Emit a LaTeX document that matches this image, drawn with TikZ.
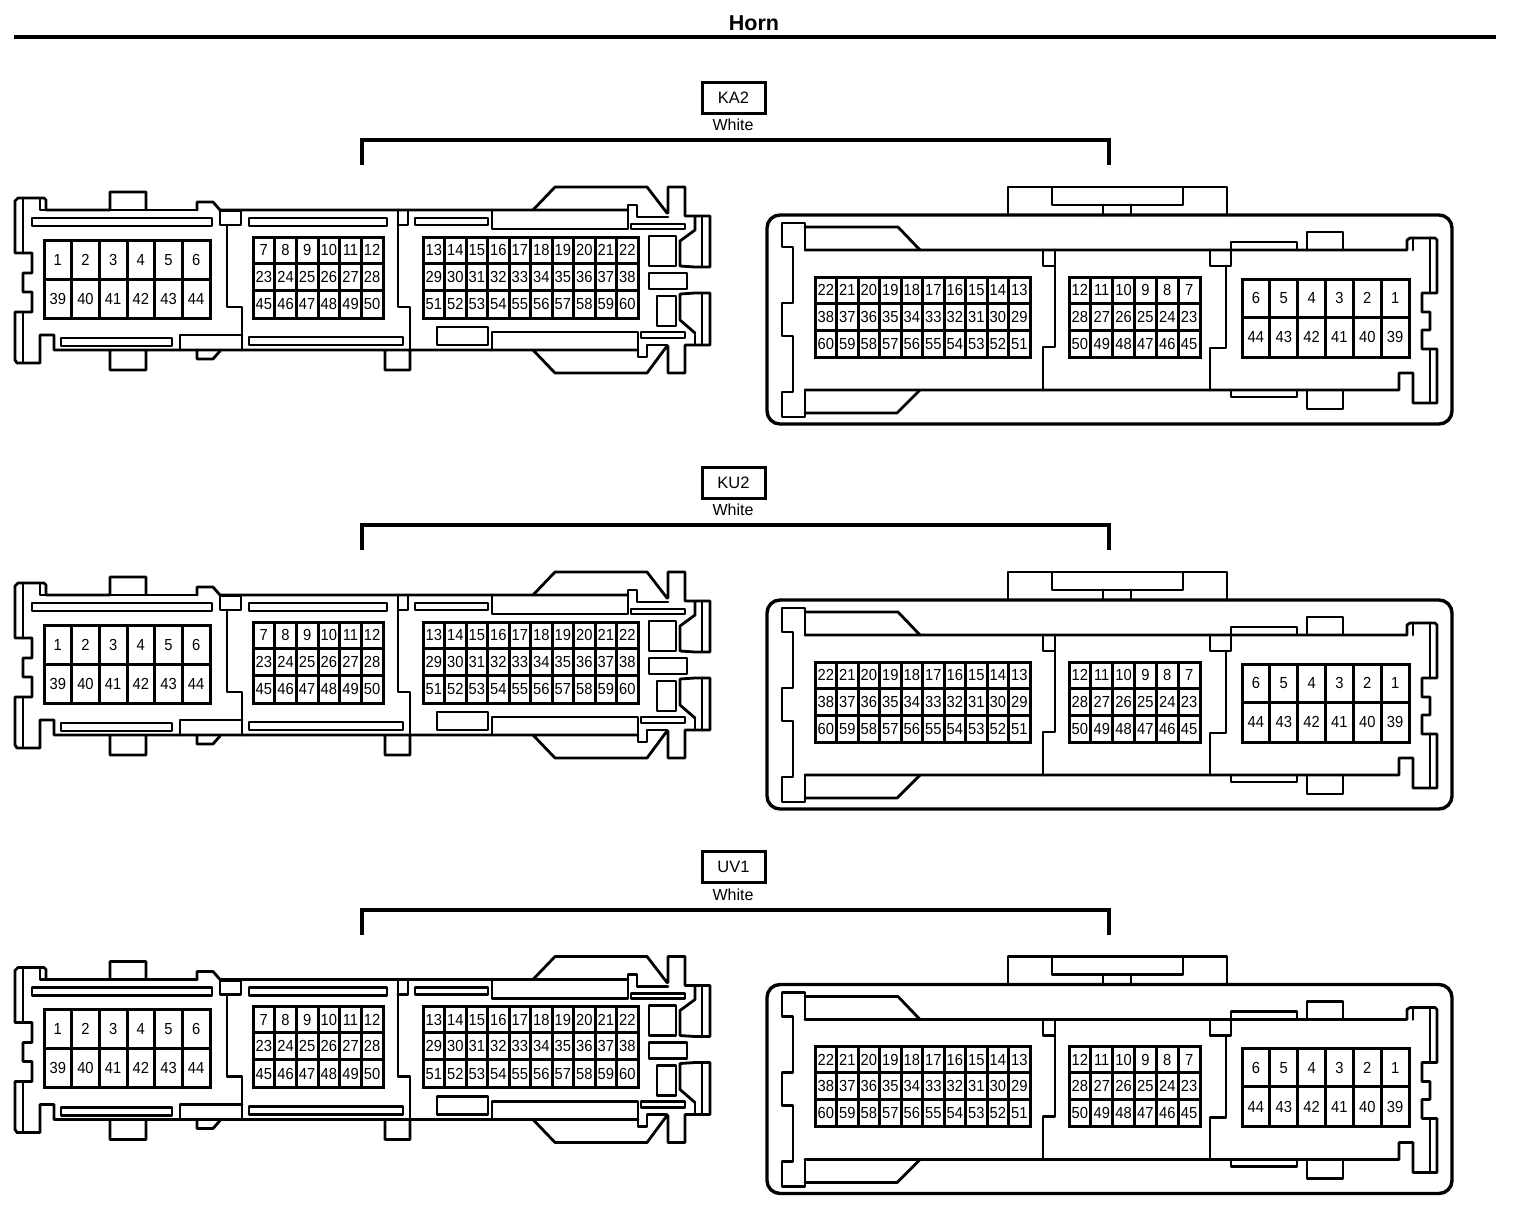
\documentclass[tikz,border=0pt]{standalone}
\usepackage{fontspec}
\setmainfont{Liberation Sans}
\newfontfamily\pinfont[FakeStretch=0.92]{Liberation Sans}
\tikzset{
  ln/.style={line width=2.8pt,line join=round,line cap=round,black},
  hv/.style={line width=3.4pt,line join=miter,line cap=round,black},
  pincell/.style={draw=black,line width=3pt,fill=white,inner sep=0pt,outer sep=0pt,text height=11.4pt,text depth=0pt,font=\pinfont\fontsize{16pt}{17pt}\selectfont,text=black},
  tagbox/.style={draw=black,line width=3pt,fill=white,inner sep=0pt,minimum width=63pt,minimum height=31pt,font=\fontsize{16.5pt}{17pt}\selectfont},
  caption/.style={inner sep=0pt,font=\fontsize{16pt}{17pt}\selectfont},
  title/.style={inner sep=0pt,font=\bfseries\fontsize{21.5pt}{22pt}\selectfont}
}
% name prefix, x left, x right, cell count, y top, y bottom, labels
\newcommand\cellrow[7]{%
  \pgfmathsetmacro\cw{(#3-#2)/#4}%
  \pgfmathsetmacro\ch{#6-#5}%
  \pgfmathsetmacro\cy{(#6+#5)/2}%
  \foreach \lab [count=\i from 0] in {#7}{%
    \pgfmathsetmacro\cx{#2+(\i+.5)*\cw}%
    \node[pincell,minimum width=\cw pt,minimum height=\ch pt] (#1-\lab) at (\cx,\cy) {\lab};
  }%
}
\newcommand\connunit[3]{%
\begin{scope}[shift={(0,#1)}]
  \node[tagbox] (#2tag) at (733.5,97.5) {#3};
  \node[caption] (#2col) at (733,125) {White};
  \coordinate (#2bl) at (362,165);
  \coordinate (#2br) at (1109,165);
  \draw[line width=4pt,line join=miter] (#2bl) -- (362,140) -- (1109,140) -- (#2br);
  % ---------- left connector ----------
  \draw[ln] (628,210) -- (220,210) -- (213,202) -- (197,202) -- (197,210) (146,210) -- (146,192) -- (110,192) -- (110,210) -- (46,210) -- (46,200) -- (44,198) -- (18,198) -- (15,201) -- (15,253) -- (32,253) -- (32,273) -- (23,273) -- (23,292) -- (32,292) -- (32,312) -- (15,312) -- (15,360) -- (17,363) -- (40,363) -- (40,335) -- (54,335) -- (54,350) -- (638,350) (110,350) -- (110,370) -- (146,370) -- (146,350) (385,350) -- (385,370) -- (410,370) -- (410,350) (533,350) -- (555,373) -- (647,373) -- (667,346) -- (668,346) -- (668,373) -- (685,373) -- (685,345) -- (710,345) -- (710,293) -- (695,293) -- (680,294) -- (680,320) -- (695,333);
  \draw[ln] (197,210) -- (110,210);
  \draw[ln] (533,210) -- (555,187) -- (647,187) -- (667,213) -- (668,213) -- (668,187) -- (685,187) -- (685,216) -- (710,216) -- (710,267) -- (695,267) -- (680,266) -- (680,241) -- (695,230) -- (695,216);
  \draw[ln] (702,216) -- (702,267) (702,293) -- (702,345) (695,333) -- (695,345);
  \draw[ln] (23,199) -- (23,253) (23,312) -- (23,362) (40,199) -- (40,210) -- (46,210);
  \draw[ln] (32,218) rectangle (212,226) (61,338) rectangle (172,346);
  \draw[ln] (220,211) rectangle (241,225);
  \draw[ln] (227,225) -- (227,307) -- (242,307) -- (242,350);
  \draw[ln] (242,335) -- (180,335) -- (180,350);
  \draw[ln] (197,350) -- (197,359) -- (213,359) -- (220,351);
  \draw[ln] (249,218) rectangle (387,226) (249,337) rectangle (403,345);
  \draw[ln] (398,210) -- (398,307) -- (410,307) -- (410,350) (398,225) -- (408,225) -- (408,210);
  \draw[ln] (415,218) rectangle (488,225);
  \draw[ln] (492,210) -- (492,229) -- (628,229) -- (628,205) -- (637,205) -- (637,217) -- (668,217);
  \draw[ln] (631,224) rectangle (685,229);
  \draw[ln] (649,236) rectangle (676,266) (649,273) rectangle (687,289) (657,296) rectangle (676,326);
  \draw[ln] (437,327) rectangle (488,345);
  \draw[ln] (492,350) -- (492,332) -- (638,332) -- (638,357) -- (647,357) -- (647,345) -- (667,345);
  \draw[ln] (641,332) rectangle (685,338);
  \cellrow{#2a}{44}{210}{6}{240}{279}{1,2,3,4,5,6}
  \cellrow{#2a}{44}{210}{6}{279}{318}{39,40,41,42,43,44}
  \cellrow{#2a}{253}{383}{6}{237}{263}{7,8,9,10,11,12}
  \cellrow{#2a}{253}{383}{6}{263}{290}{23,24,25,26,27,28}
  \cellrow{#2a}{253}{383}{6}{290}{318}{45,46,47,48,49,50}
  \cellrow{#2a}{423}{638}{10}{237}{263}{13,14,15,16,17,18,19,20,21,22}
  \cellrow{#2a}{423}{638}{10}{263}{290}{29,30,31,32,33,34,35,36,37,38}
  \cellrow{#2a}{423}{638}{10}{290}{318}{51,52,53,54,55,56,57,58,59,60}
  % ---------- right connector ----------
  \draw[hv,rounded corners=13pt] (767,215) rectangle (1452,424);
  \draw[ln] (1008,215) -- (1008,187) -- (1227,187) -- (1227,215);
  \draw[ln] (1052,188) -- (1052,205) -- (1183,205) -- (1183,188);
  \draw[ln] (1103,205) -- (1103,215) (1131,205) -- (1131,215);
  \draw[ln] (920,250) -- (898,227) -- (805,227);
  \draw[ln] (805,250) -- (805,223) -- (782,223) -- (782,247) -- (793,247) -- (793,303) -- (782,303) -- (782,336) -- (793,336) -- (793,392) -- (782,392) -- (782,417) -- (805,417) -- (805,390);
  \draw[ln] (805,413) -- (897,413) -- (920,390);
  \draw[ln] (805,250) -- (1407,250) -- (1407,240) -- (1410,238) -- (1435,238) -- (1437,240) -- (1437,293) -- (1422,293) -- (1422,312) -- (1430,312) -- (1430,330) -- (1422,330) -- (1422,349) -- (1437,349) -- (1437,403) -- (1413,403) -- (1413,373) -- (1399,373) -- (1399,390) -- (805,390);
  \draw[ln] (1413,238) -- (1413,250) (1430,238) -- (1430,293) (1430,349) -- (1430,403);
  \draw[ln] (1043,250) -- (1043,266) -- (1055,266) -- (1055,347) -- (1043,347) -- (1043,390) (1055,250) -- (1055,266);
  \draw[ln] (1210,250) -- (1210,266) -- (1231,266) -- (1231,242) -- (1297,242) -- (1297,250);
  \draw[ln] (1226,266) -- (1226,348) -- (1210,348) -- (1210,390);
  \draw[ln] (1307,250) -- (1307,232) -- (1343,232) -- (1343,250);
  \draw[ln] (1307,390) -- (1307,409) -- (1343,409) -- (1343,390);
  \draw[ln] (1231,390) -- (1231,397) -- (1297,397) -- (1297,390);
  \cellrow{#2b}{815}{1030}{10}{277}{303}{22,21,20,19,18,17,16,15,14,13}
  \cellrow{#2b}{815}{1030}{10}{303}{330}{38,37,36,35,34,33,32,31,30,29}
  \cellrow{#2b}{815}{1030}{10}{330}{357}{60,59,58,57,56,55,54,53,52,51}
  \cellrow{#2b}{1069}{1200}{6}{277}{303}{12,11,10,9,8,7}
  \cellrow{#2b}{1069}{1200}{6}{303}{330}{28,27,26,25,24,23}
  \cellrow{#2b}{1069}{1200}{6}{330}{357}{50,49,48,47,46,45}
  \cellrow{#2b}{1242}{1409}{6}{279}{317}{6,5,4,3,2,1}
  \cellrow{#2b}{1242}{1409}{6}{317}{357}{44,43,42,41,40,39}
\end{scope}}
\begin{document}
\begin{tikzpicture}[x=1pt,y=-1pt]
  \useasboundingbox (0,0) rectangle (1520,1210);
  \fill[white] (0,0) rectangle (1520,1210);
  \node[title] (head) at (754,23) {Horn};
  \coordinate (rl) at (14,37);
  \coordinate (rr) at (1496,37);
  \draw[line width=4.6pt] (rl) -- (rr);
  \connunit{0}{ka}{KA2}
  \connunit{385}{ku}{KU2}
  \connunit{769.5}{uv}{UV1}
\end{tikzpicture}
\end{document}
